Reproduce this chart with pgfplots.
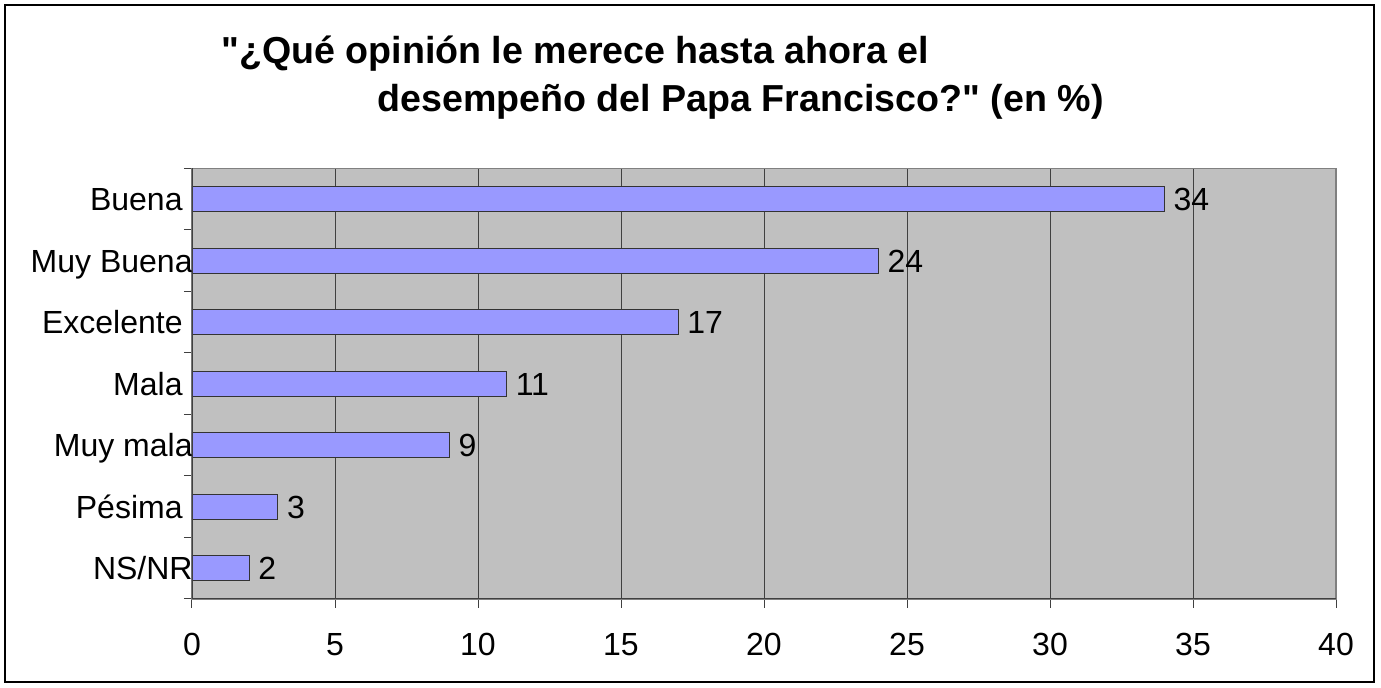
\documentclass[border=0pt]{standalone}
\usepackage{pgfplots}
\pgfplotsset{compat=1.18}
\usepackage{fontspec}
\setmainfont{Liberation Sans}[Ligatures=TeXOff]
\definecolor{barfill}{HTML}{9999FF}
\definecolor{plotbg}{HTML}{C0C0C0}
\definecolor{gridc}{HTML}{404040}
\begin{document}
\begin{tikzpicture}[x=0.5pt,y=0.5pt]
\useasboundingbox (0,0) rectangle (1381,688);
\draw[black, line width=0.8pt] (5,683) rectangle (1374,6);
\node[anchor=base west, inner sep=0pt, font=\fontsize{18.8}{23}\selectfont\bfseries] at (221,624) {"¿Qué opinión le merece hasta ahora el};
\node[anchor=base west, inner sep=0pt, font=\fontsize{18.8}{23}\selectfont\bfseries] at (377,576) {desempeño del Papa Francisco?" (en \%)};
\begin{axis}[
  at={(96pt,44.5pt)}, anchor=south west,
  scale only axis, width=572pt, height=215.25pt,
  xbar, bar width=12.5pt,
  xmin=0, xmax=40, ymin=0.5, ymax=7.5,
  xtick={0,5,...,40},
  ytick={1,...,7},
  yticklabels={NS/NR\kern-5pt, Pésima, Muy mala\kern-5pt, Mala, Excelente, Muy Buena\kern-5pt, Buena},
  minor ytick={0.5,1.5,...,7.5},
  tick pos=left,
  tick align=outside,
  major tick length=4.5pt,
  minor tick length=4pt,
  ytick style={draw=none},
  minor y tick style={draw=gridc, line width=0.5pt},
  xtick style={draw=gridc, line width=0.5pt},
  xmajorgrids, major grid style={draw=gridc, line width=0.5pt},
  axis background/.style={fill=plotbg},
  axis line style={draw=gray, line width=0.6pt},
  /pgf/number format/assume math mode=true,
  ticklabel style={font=\fontsize{16}{19}\selectfont},
  xticklabel style={anchor=base, inner sep=0pt, yshift=-24pt},
  yticklabel style={anchor=base east, inner sep=0pt, xshift=0pt, yshift=-5.7pt},
  nodes near coords,
  nodes near coords style={font=\fontsize{16}{19}\selectfont, anchor=base west, inner sep=0pt, xshift=4.3pt, yshift=-5.7pt, text=black},
]
\addplot[fill=barfill, draw=black!80, line width=0.6pt] coordinates {(2,1) (3,2) (9,3) (11,4) (17,5) (24,6) (34,7)};
\draw[gridc, line width=0.8pt] (rel axis cs:0,0) -- (rel axis cs:0,1);
\draw[gridc, line width=0.8pt] (rel axis cs:0,0) -- (rel axis cs:1,0);
\end{axis}
\end{tikzpicture}
\end{document}
